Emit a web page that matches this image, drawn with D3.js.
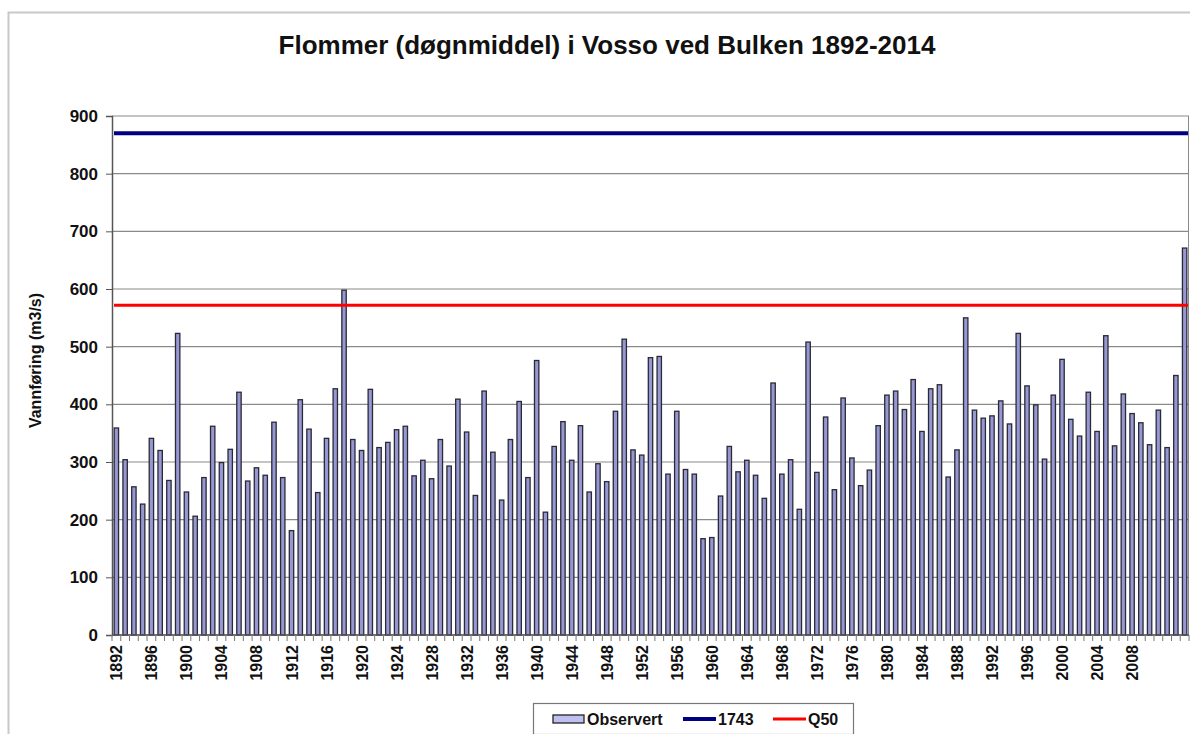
<!DOCTYPE html>
<html>
<head>
<meta charset="utf-8">
<script src="https://cdn.jsdelivr.net/npm/d3@7"></script>
<style>
  body { margin: 0; background: #fff; }
  text { font-family: "Liberation Sans", Arial, sans-serif; font-weight: bold; fill: #111; }
</style>
</head>
<body>
<div id="chart"></div>
<script>
// years 1892-2014 and observed daily-mean flood values (m3/s)
var years = d3.range(1892, 2015);
var observert = [
  359, 304, 257, 227, 341, 320, 268, 523, 248, 206,
  273, 362, 299, 322, 421, 267, 290, 277, 369, 273,
  181, 408, 357, 247, 341, 427, 598, 339, 320, 426,
  325, 334, 356, 362, 276, 303, 271, 339, 293, 409,
  352, 242, 423, 317, 234, 339, 405, 273, 476, 213,
  327, 370, 303, 363, 248, 297, 266, 388, 513, 321,
  312, 481, 483, 279, 388, 287, 279, 167, 169, 241,
  327, 283, 303, 277, 237, 437, 279, 304, 218, 508,
  282, 378, 252, 411, 307, 259, 286, 363, 416, 423,
  391, 443, 353, 427, 434, 274, 321, 550, 390, 376,
  380, 406, 366, 523, 432, 399, 305, 416, 478, 374,
  345, 421, 353, 519, 328, 418, 384, 368, 330, 390,
  325, 450, 671
];
var refLines = [
  { name: "1743", value: 870, color: "#000080", width: 4 },
  { name: "Q50", value: 572, color: "#ff0000", width: 3 }
];
var yTicks = d3.range(0, 901, 100);
var xTickYears = d3.range(1892, 2009, 4);

var W = 1190, H = 734;
var margin = { top: 116, right: 1, bottom: 99, left: 112 },
    width = W - margin.left - margin.right,
    height = H - margin.top - margin.bottom;

var root = d3.select("#chart")
    .append("svg")
    .attr("width", W)
    .attr("height", H);

// outer frame
root.append("rect")
    .attr("x", 8.5).attr("y", 12.5)
    .attr("width", W + 10).attr("height", H)
    .attr("fill", "none")
    .attr("stroke", "#c8c8c4")
    .attr("stroke-width", 2);

// title
root.append("text")
    .attr("x", 607).attr("y", 54)
    .attr("text-anchor", "middle")
    .style("font-size", "26px")
    .text("Flommer (døgnmiddel) i Vosso ved Bulken 1892-2014");

var svg = root.append("g")
    .attr("transform", "translate(" + margin.left + "," + margin.top + ")");

var x = d3.scaleBand()
    .domain(years)
    .range([0, width])
    .paddingInner(0.5)
    .paddingOuter(0.25);

var y = d3.scaleLinear()
    .domain([0, 900])
    .range([height, 0]);

// grid lines
svg.append("g")
    .selectAll("line")
    .data(yTicks)
    .enter()
    .append("line")
    .attr("x1", 0).attr("x2", width)
    .attr("y1", function (d) { return y(d); })
    .attr("y2", function (d) { return y(d); })
    .attr("stroke", "#8a8a86")
    .attr("stroke-width", 1.2);

// plot right edge
svg.append("line")
    .attr("x1", width - 0.5).attr("x2", width - 0.5)
    .attr("y1", 0).attr("y2", height)
    .attr("stroke", "#8a8a86");

// bars
svg.append("g")
    .selectAll("rect")
    .data(observert)
    .enter()
    .append("rect")
    .attr("x", function (d, i) { return x(years[i]); })
    .attr("y", function (d) { return y(d); })
    .attr("width", x.bandwidth())
    .attr("height", function (d) { return height - y(d); })
    .attr("fill", "#9797d4")
    .attr("stroke", "#2a2a35")
    .attr("stroke-width", 1.3);

// reference lines
svg.append("g")
    .selectAll("line")
    .data(refLines)
    .enter()
    .append("line")
    .attr("x1", 2).attr("x2", width - 1)
    .attr("y1", function (d) { return y(d.value); })
    .attr("y2", function (d) { return y(d.value); })
    .attr("stroke", function (d) { return d.color; })
    .attr("stroke-width", function (d) { return d.width; });

// y axis
var yAxis = svg.append("g")
    .call(d3.axisLeft(y).tickValues(yTicks).tickSize(6).tickPadding(8));
yAxis.select(".domain").attr("stroke", "#555").attr("stroke-width", 1.5);
yAxis.selectAll(".tick line").attr("stroke", "#555");
yAxis.selectAll("text")
    .style("font-size", "17px")
    .style("font-family", "'Liberation Sans', Arial, sans-serif")
    .style("font-weight", "bold")
    .attr("fill", "#111");

// x axis: a tick between every category
var xEdge = d3.scaleLinear()
    .domain([0, years.length])
    .range([x(years[0]) - x.step() * x.paddingInner() / 2, x(years[years.length - 1]) + x.bandwidth() + x.step() * x.paddingInner() / 2]);
var xAxisG = svg.append("g")
    .attr("transform", "translate(0," + height + ")");
xAxisG.append("line")
    .attr("x1", 0).attr("x2", width)
    .attr("stroke", "#555").attr("stroke-width", 1.5);
xAxisG.selectAll(".cat-tick")
    .data(d3.range(0, years.length + 1))
    .enter()
    .append("line")
    .attr("class", "cat-tick")
    .attr("x1", function (d) { return xEdge(d); })
    .attr("x2", function (d) { return xEdge(d); })
    .attr("y1", 0).attr("y2", 6)
    .attr("stroke", "#777");
xAxisG.selectAll(".xlab")
    .data(xTickYears)
    .enter()
    .append("text")
    .attr("class", "xlab")
    .attr("transform", function (d) {
        return "translate(" + (x(d) + x.bandwidth() / 2 + 6) + ",10) rotate(-90)";
    })
    .attr("text-anchor", "end")
    .style("font-size", "16px")
    .text(function (d) { return d; });

// y axis title
root.append("text")
    .attr("transform", "translate(41," + (margin.top + height / 2 - 15) + ") rotate(-90)")
    .attr("text-anchor", "middle")
    .style("font-size", "16px")
    .text("Vannføring (m3/s)");

// legend
var legend = root.append("g").attr("transform", "translate(533,703)");
legend.append("rect")
    .attr("x", 0.5).attr("y", 0.5)
    .attr("width", 320).attr("height", 31)
    .attr("fill", "#fff")
    .attr("stroke", "#777")
    .attr("stroke-width", 1.2);
legend.append("rect")
    .attr("x", 20).attr("y", 12)
    .attr("width", 31).attr("height", 8)
    .attr("fill", "#c0c0f0")
    .attr("stroke", "#222")
    .attr("stroke-width", 1.3);
legend.append("text")
    .attr("x", 54).attr("y", 22)
    .style("font-size", "16px")
    .text("Observert");
refLines.forEach(function (d, i) {
    var lx = 150 + i * 90;
    legend.append("line")
        .attr("x1", lx).attr("x2", lx + 33)
        .attr("y1", 16).attr("y2", 16)
        .attr("stroke", d.color)
        .attr("stroke-width", d.width);
    legend.append("text")
        .attr("x", lx + 35).attr("y", 22)
        .style("font-size", "16px")
        .text(d.name);
});
</script>
</body>
</html>
